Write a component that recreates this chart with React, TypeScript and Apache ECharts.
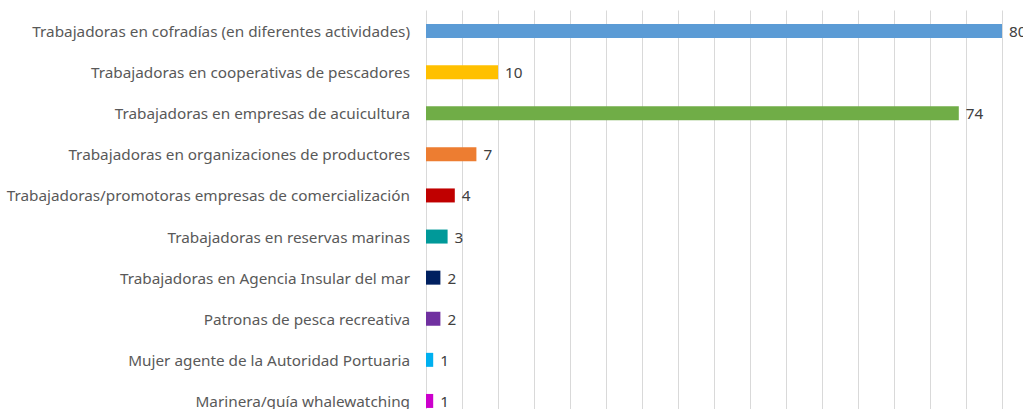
import React, { useEffect, useRef } from "react";
import * as echarts from "echarts";

const categories = [
  "Trabajadoras en cofradías (en diferentes actividades)",
  "Trabajadoras en cooperativas de pescadores",
  "Trabajadoras en empresas de acuicultura",
  "Trabajadoras en organizaciones de productores",
  "Trabajadoras/promotoras empresas de comercialización",
  "Trabajadoras en reservas marinas",
  "Trabajadoras en Agencia Insular del mar",
  "Patronas de pesca recreativa",
  "Mujer agente de la Autoridad Portuaria",
  "Marinera/guía whalewatching",
];

const values = [80, 10, 74, 7, 4, 3, 2, 2, 1, 1];

const colors = [
  "#5B9BD5",
  "#FFC000",
  "#70AD47",
  "#ED7D31",
  "#C00000",
  "#009999",
  "#002060",
  "#7030A0",
  "#00B0F0",
  "#CC00CC",
];

export default function App() {
  const ref = useRef<HTMLDivElement>(null);
  useEffect(() => {
    if (!ref.current) return;
    const chart = echarts.init(ref.current, null, { renderer: "svg" });
    chart.setOption({
      animation: false,
      grid: { left: 426, right: 21, top: 10.5, height: 411, containLabel: false },
      xAxis: {
        type: "value",
        min: 0,
        max: 80,
        interval: 5,
        axisLabel: { show: false },
        axisLine: { show: false },
        axisTick: { show: false },
        splitLine: { show: true, lineStyle: { color: "#D9D9D9", width: 1 } },
      },
      yAxis: {
        type: "category",
        data: categories,
        inverse: true,
        axisLine: { show: false },
        axisTick: { show: false },
        axisLabel: {
          margin: 16,
          color: "#595959",
          fontFamily: "Noto Sans",
          fontSize: 15.3,
        },
      },
      series: [
        {
          type: "bar",
          data: values.map((v, i) => ({ value: v, itemStyle: { color: colors[i] } })),
          barWidth: 14,
          label: {
            show: true,
            position: "right",
            distance: 7,
            color: "#404040",
            fontFamily: "Noto Sans",
            fontSize: 15.3,
          },
        },
      ],
    });
    return () => chart.dispose();
  }, []);
  return (
    <div
      ref={ref}
      style={{ position: "absolute", left: 0, top: 0, width: 1023, height: 440, background: "#fff" }}
    />
  );
}
